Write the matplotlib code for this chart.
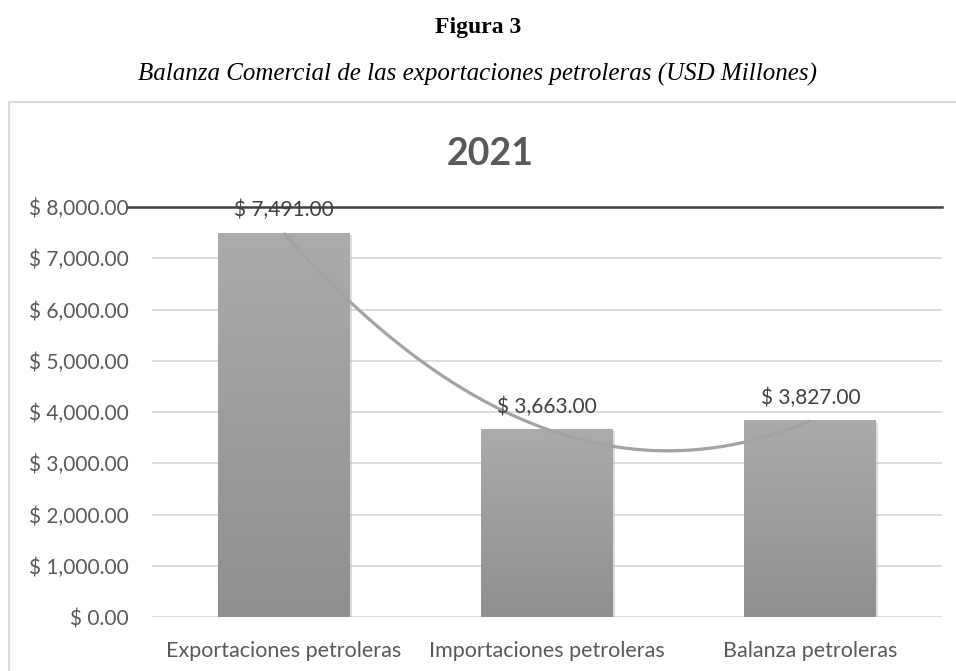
import numpy as np
import matplotlib
matplotlib.use("Agg")
import matplotlib.pyplot as plt
import matplotlib.patheffects as pe
from matplotlib.patches import Rectangle


categories = ["Exportaciones petroleras", "Importaciones petroleras", "Balanza petroleras"]
values = [7491.00, 3663.00, 3827.00]
y_ticks = [0, 1000, 2000, 3000, 4000, 5000, 6000, 7000, 8000]
y_tick_labels = ["$ 0.00", "$ 1,000.00", "$ 2,000.00", "$ 3,000.00", "$ 4,000.00",
                 "$ 5,000.00", "$ 6,000.00", "$ 7,000.00", "$ 8,000.00"]
value_labels = ["$ 7,491.00", "$ 3,663.00", "$ 3,827.00"]

FONT = "Lato"
GREY_TXT = "#595959"


def gradient_bars(ax, bars):
    # vertical grey gradient, lighter on top
    grad = np.linspace(0, 1, 256).reshape(-1, 1)
    cmap = matplotlib.colors.LinearSegmentedColormap.from_list("g", ["#8f8f8f", "#ababab"])
    for b in bars:
        x0, y0 = b.get_x(), b.get_y()
        w, h = b.get_width(), b.get_height()
        ax.imshow(grad, extent=(x0, x0 + w, y0, y0 + h), origin="lower",
                  cmap=cmap, aspect="auto", zorder=2.5, interpolation="bicubic")


def main():
    fig = plt.figure(figsize=(9.56, 6.71), dpi=100)

    fig.text(0.5, 1 - 28 / 671, "Figura 3", ha="center", va="center",
             family="Liberation Serif", weight="bold", fontsize=17)
    fig.text(0.5, 1 - 74 / 671, "Balanza Comercial de las exportaciones petroleras (USD Millones)",
             ha="center", va="center", family="Liberation Serif", style="italic", fontsize=18)

    # chart area border (runs off the right and bottom edge)
    fig.patches.append(Rectangle((9 / 956, -0.2), 1.2, 1.2 - 102 / 671, transform=fig.transFigure,
                                 fill=False, edgecolor="#d9d9d9", lw=1.5))

    fig.text(490 / 956, 1 - 154 / 671, "2021", ha="center", va="center", family=FONT,
             weight="bold", fontsize=27, color=GREY_TXT)

    ax = fig.add_axes([152 / 956, 1 - 617 / 671, 790 / 956, 410 / 671])
    x = np.arange(len(categories))
    bars = ax.bar(x, values, width=0.5, color="#9d9d9d", zorder=2,
                  path_effects=[pe.SimplePatchShadow(offset=(1.5, -1.5), shadow_rgbFace="#bbbbbb", alpha=0.5),
                                pe.Normal()])
    gradient_bars(ax, bars)

    # polynomial trendline (order 2)
    coef = np.polyfit(x, values, 2)
    xs = np.linspace(x[0], x[-1], 200)
    ax.plot(xs, np.polyval(coef, xs), color="#a3a3a3", lw=2.3, zorder=3, solid_capstyle="butt")

    for xi, v, lab in zip(x, values, value_labels):
        ax.annotate(lab, (xi, v), xytext=(0, 9), textcoords="offset points", ha="center",
                    va="bottom", family=FONT, fontsize=15, color="#404040", zorder=4)

    ax.set_xlim(-0.5, 2.5)
    ax.set_ylim(0, 8000)
    ax.set_yticks(y_ticks)
    ax.set_yticklabels(y_tick_labels, family=FONT, fontsize=15, color=GREY_TXT)
    ax.set_xticks(x)
    ax.set_xticklabels(categories, family=FONT, fontsize=15.5, color=GREY_TXT)
    ax.tick_params(axis="y", length=0, pad=17)
    ax.tick_params(axis="x", length=0, pad=17)

    for yv in y_ticks[:-1]:
        ax.axhline(yv, color="#d9d9d9", lw=1.3, zorder=1)
    # dark line at the top value
    ax.axhline(y_ticks[-1], xmin=-0.03, xmax=1.0, color="#404040", lw=1.8, clip_on=False, zorder=3)

    for s in ax.spines.values():
        s.set_visible(False)

    fig.savefig("out.png", dpi=100)
    return 0


if __name__ == "__main__":
    main()
